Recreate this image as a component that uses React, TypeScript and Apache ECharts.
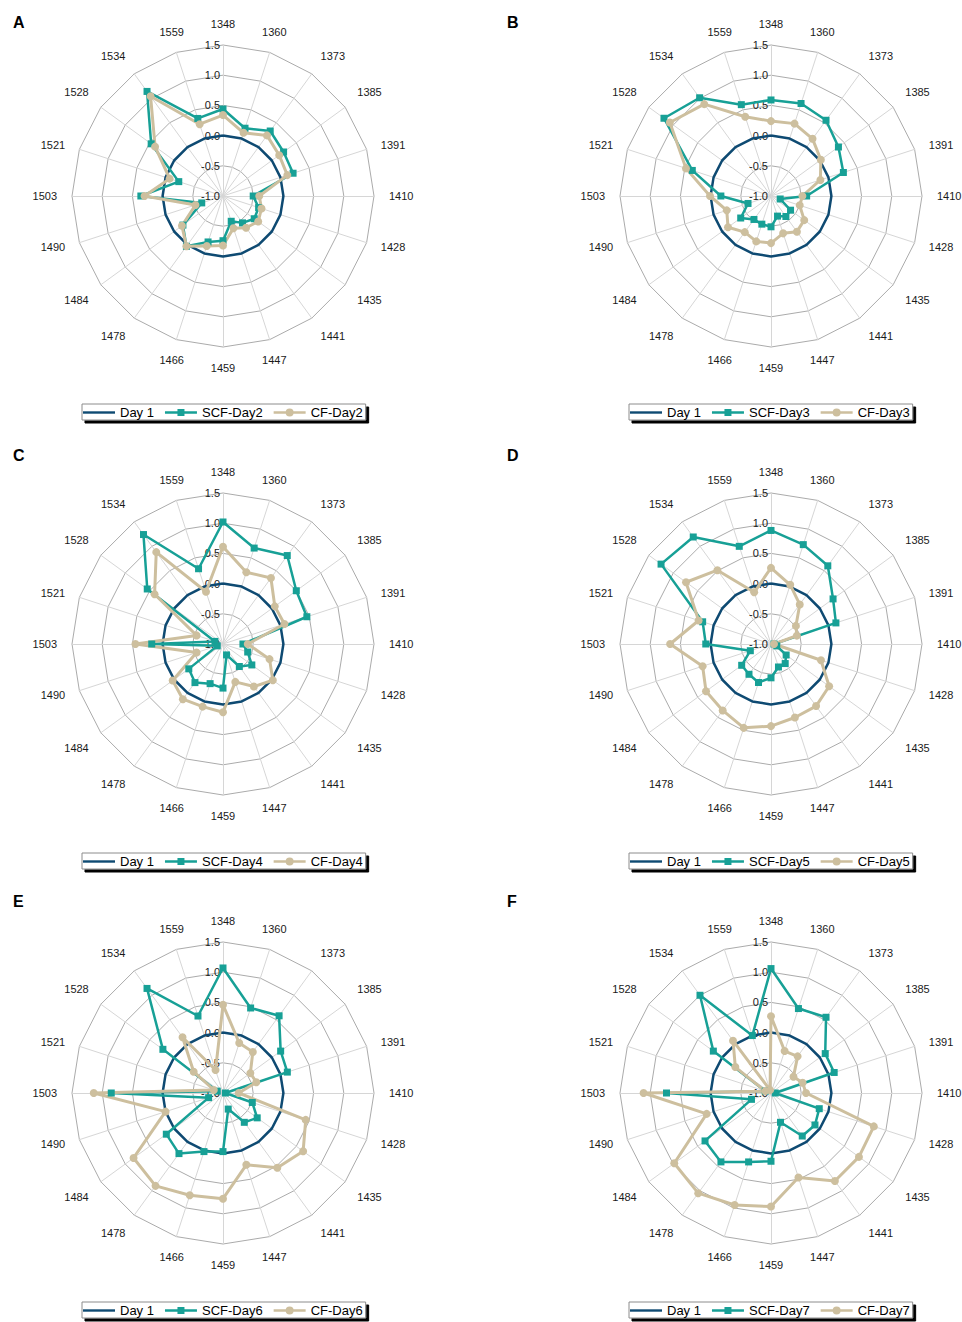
import React, { useEffect, useRef } from 'react';
import * as echarts from 'echarts';

// ---------- data ----------
const labels = ['1348', '1360', '1373', '1385', '1391', '1410', '1428', '1435', '1441', '1447', '1459', '1466', '1478', '1484', '1490', '1503', '1521', '1528', '1534', '1559'];
const tickValues = [-1.0, -0.5, 0.0, 0.5, 1.0, 1.5];

const day1 = [0, 0, 0, 0, 0, 0, 0, 0, 0, 0, 0, 0, 0, 0, 0, 0, 0, 0, 0, 0];

const scfDay2 = [0.44, 0.18, 0.33, 0.24, 0.22, -0.50, -0.38, -0.36, -0.45, -0.56, -0.26, -0.20, 0.03, -0.18, -0.63, 0.36, -0.23, 0.47, 1.14, 0.35];
const cfDay2 = [0.34, 0.10, 0.24, 0.15, 0.12, -0.40, -0.33, -0.28, -0.35, -0.44, -0.18, -0.13, 0.03, -0.16, -0.52, 0.30, -0.07, 0.39, 1.04, 0.25];

const scfDay3 = [0.59, 0.61, 0.55, 0.38, 0.26, -0.41, -0.84, -0.60, -0.58, -0.65, -0.49, -0.51, -0.52, -0.38, -0.60, -0.17, 0.37, 1.19, 1.01, 0.59];
const cfDay3 = [0.24, 0.26, 0.17, 0.02, -0.14, -0.48, -0.50, -0.32, -0.27, -0.35, -0.22, -0.21, -0.26, -0.12, -0.23, 0.01, 0.48, 1.07, 0.88, 0.38];

const scfDay4 = [1.02, 0.67, 0.81, 0.50, 0.46, -0.67, -0.57, -0.41, -0.54, -0.81, -0.27, -0.31, -0.21, -0.30, -0.90, 0.18, -0.86, 0.55, 1.24, 0.31];
const cfDay4 = [0.61, 0.25, 0.35, 0.06, 0.07, -0.59, -0.19, 0.02, -0.13, -0.34, 0.13, 0.09, 0.13, 0.03, -0.54, 0.45, -0.54, 0.40, 0.88, -0.09];

const scfDay5 = [0.88, 0.73, 0.60, 0.27, 0.13, -0.95, -0.90, -0.69, -0.60, -0.60, -0.44, -0.33, -0.38, -0.40, -0.64, 0.08, 0.19, 1.25, 1.19, 0.70];
const cfDay5 = [0.26, 0.03, -0.19, -0.49, -0.55, -0.95, -0.13, 0.19, 0.27, 0.28, 0.36, 0.46, 0.36, 0.33, 0.19, 0.67, 0.26, 0.74, 0.51, -0.10];

const scfDay6 = [1.07, 0.48, 0.58, 0.18, 0.12, -0.96, -0.49, -0.30, -0.40, -0.72, -0.03, 0.02, 0.24, 0.16, -0.75, 0.85, -0.90, 0.23, 1.14, 0.34];
const cfDay6 = [0.46, -0.13, -0.16, -0.44, -0.42, -0.74, 0.44, 0.64, 0.53, 0.25, 0.75, 0.78, 0.90, 0.83, 0.00, 1.14, -0.84, -0.40, 0.14, -0.60];

const scfDay7 = [1.06, 0.47, 0.55, 0.11, 0.10, -0.93, -0.16, -0.10, -0.12, -0.49, 0.13, 0.20, 0.41, 0.35, -0.66, 0.73, -0.90, 0.18, 1.00, 0.00];
const cfDay7 = [0.27, -0.27, -0.25, -0.54, -0.45, -0.42, 0.79, 0.80, 0.80, 0.47, 0.88, 0.95, 1.05, 0.98, 0.12, 1.11, -0.90, -0.27, 0.07, -0.95];

const panelLetters = ['A', 'B', 'C', 'D', 'E', 'F'];
const scfNames = ['SCF-Day2', 'SCF-Day3', 'SCF-Day4', 'SCF-Day5', 'SCF-Day6', 'SCF-Day7'];
const cfNames = ['CF-Day2', 'CF-Day3', 'CF-Day4', 'CF-Day5', 'CF-Day6', 'CF-Day7'];
const scfSeries = [scfDay2, scfDay3, scfDay4, scfDay5, scfDay6, scfDay7];
const cfSeries = [cfDay2, cfDay3, cfDay4, cfDay5, cfDay6, cfDay7];

// ---------- layout / style ----------
const CENTERS_X = [223, 771];
const CENTERS_Y = [196, 644, 1093];
const LEGEND_LEFT = [82, 629];
const LEGEND_TOP = [404, 853, 1302];
const LETTER_X = [13, 507];
const LETTER_Y = [14, 447, 893];
const RADIUS = 151;
const NAME_GAP = 15;
const NAME_HALF_W = 12.2;
const NAME_HALF_H = 6.2;

const C_DAY1 = '#0e4a72';
const C_SCF = '#17a096';
const C_CF = '#cdbf9e';
const FONT = "'Liberation Sans', Arial, Helvetica, sans-serif";
const NAME_STYLE = { color: '#1a1a1a', fontSize: 11, fontFamily: FONT };

const ICON_LINE = 'path://M0,0M32,10M0,3.8L32,3.8L32,6.2L0,6.2Z';
const ICON_SQUARE = 'path://M0,0M32,10M0,3.8L12.5,3.8L12.5,1.5L19.5,1.5L19.5,3.8L32,3.8L32,6.2L19.5,6.2L19.5,8.5L12.5,8.5L12.5,6.2L0,6.2Z';
const ICON_CIRCLE = 'path://M0,0M32,10M0,3.8L32,3.8L32,6.2L0,6.2ZM20,5A4,4 0 1 1 12,5A4,4 0 1 1 20,5Z';

// ECharts radar goes counter-clockwise; reference goes clockwise from top.
const order = labels.map((_, k) => (k === 0 ? 0 : labels.length - k));
const reorder = (arr: any[]) => order.map((i) => arr[i]);

// Excel-like label anchoring: left/right aligned when the spoke is mostly
// horizontal, top/bottom aligned when it is mostly vertical.
const nameRich: any = {};
labels.forEach((_, i) => {
  const th = (i * 2 * Math.PI) / labels.length;
  const sn = Math.sin(th);
  const cs = Math.cos(th);
  const dx = Math.abs(sn) > 0.5 ? Math.sign(sn) * NAME_HALF_W : 0;
  const dy = Math.abs(cs) > 0.5 ? -Math.sign(cs) * NAME_HALF_H : 0;
  nameRich['p' + i] = {
    ...NAME_STYLE,
    padding: [
      Math.max(0, 2 * dy),
      Math.max(0, -2 * dx),
      Math.max(0, -2 * dy),
      Math.max(0, 2 * dx),
    ],
  };
});

function buildOption() {
  const radar: any[] = [];
  const series: any[] = [];
  const legend: any[] = [];
  const title: any[] = [];

  for (let p = 0; p < 6; p++) {
    const col = p % 2;
    const row = Math.floor(p / 2);
    radar.push({
      center: [CENTERS_X[col], CENTERS_Y[row]],
      radius: RADIUS,
      startAngle: 90,
      shape: 'polygon',
      splitNumber: tickValues.length - 1,
      nameGap: NAME_GAP,
      axisName: {
        ...NAME_STYLE,
        align: 'center',
        verticalAlign: 'middle',
        formatter: (name: string) => '{p' + labels.indexOf(name) + '|' + name + '}',
        rich: nameRich,
      },
      indicator: reorder(labels).map((name: string, k: number) => {
        const ind: any = { name, min: tickValues[0], max: tickValues[tickValues.length - 1] };
        if (k === 0) ind.axisLabel = { show: true };
        return ind;
      }),
      axisLine: { lineStyle: { color: '#d6d6d6', width: 1 } },
      splitLine: { lineStyle: { color: '#ababab', width: 1 } },
      splitArea: { show: false },
      axisTick: { show: false },
      axisLabel: {
        show: false,
        fontSize: 11,
        color: '#1a1a1a',
        fontFamily: FONT,
        margin: 3,
        showMinLabel: true,
        showMaxLabel: true,
        formatter: (v: any) => Number(v).toFixed(1),
      },
    });

    series.push({
      type: 'radar',
      radarIndex: p,
      silent: true,
      data: [
        {
          name: 'Day 1',
          value: reorder(day1),
          symbol: 'none',
          lineStyle: { color: C_DAY1, width: 2.5 },
          itemStyle: { color: C_DAY1 },
        },
        {
          name: scfNames[p],
          value: reorder(scfSeries[p]),
          symbol: 'rect',
          symbolSize: 7,
          lineStyle: { color: C_SCF, width: 2.5 },
          itemStyle: { color: C_SCF, borderWidth: 0 },
        },
        {
          name: cfNames[p],
          value: reorder(cfSeries[p]),
          symbol: 'circle',
          symbolSize: 8,
          lineStyle: { color: C_CF, width: 3 },
          itemStyle: { color: C_CF, borderWidth: 0 },
        },
      ],
    });

    legend.push({
      left: LEGEND_LEFT[col],
      top: LEGEND_TOP[row],
      orient: 'horizontal',
      selectedMode: false,
      itemWidth: 32,
      itemHeight: 10,
      itemGap: 11,
      padding: [2, 3, 1, 1],
      backgroundColor: '#ffffff',
      borderColor: '#8c8c8c',
      borderWidth: 1,
      shadowColor: '#000000',
      shadowBlur: 0,
      shadowOffsetX: 3,
      shadowOffsetY: 3,
      itemStyle: { borderWidth: 0 },
      textStyle: { fontSize: 13, color: '#000', fontFamily: FONT },
      data: [
        { name: 'Day 1', icon: ICON_LINE, itemStyle: { color: C_DAY1, borderWidth: 0 } },
        { name: scfNames[p], icon: ICON_SQUARE, itemStyle: { color: C_SCF, borderWidth: 0 } },
        { name: cfNames[p], icon: ICON_CIRCLE, itemStyle: { color: C_CF, borderWidth: 0 } },
      ],
    });

    title.push({
      text: panelLetters[p],
      left: LETTER_X[col],
      top: LETTER_Y[row],
      padding: 0,
      textStyle: { fontSize: 16, fontWeight: 'bold', color: '#000', fontFamily: FONT },
    });
  }

  return {
    animation: false,
    backgroundColor: '#ffffff',
    title,
    legend,
    radar,
    series,
  };
}

export default function App() {
  const ref = useRef<HTMLDivElement>(null);
  useEffect(() => {
    if (!ref.current) return;
    const chart = echarts.init(ref.current, undefined, { renderer: 'svg' });
    chart.setOption(buildOption() as any);
    return () => chart.dispose();
  }, []);
  return (
    <div
      ref={ref}
      style={{ position: 'absolute', left: 0, top: 0, width: 962, height: 1322 }}
    />
  );
}
